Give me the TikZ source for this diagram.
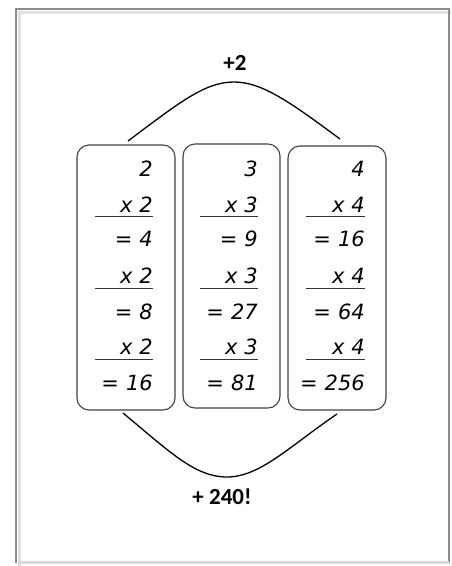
\documentclass[tikz,border=0pt]{standalone}
\usepackage{fontspec}
\setmainfont{Carlito}
\newfontfamily\numfont{DejaVu Sans}
\begin{document}
\begin{tikzpicture}[x=1pt,y=-1pt,
  frame/.style={draw=black!45,line width=1.4pt},
  colbox/.style={draw=black!75,line width=1.1pt,rounded corners=12pt},
  num/.style={anchor=east,inner sep=0pt,font=\numfont\itshape\fontsize{21}{21}\selectfont},
  rule/.style={draw=black!80,line width=1pt},
  arc/.style={draw=black,line width=1.3pt},
  lbl/.style={font=\bfseries\fontsize{23}{23}\selectfont,inner sep=0pt}]
\useasboundingbox (0,0) rectangle (451,566);
% page frame with soft shadow
\draw[black!12,line width=3pt] (19,566) -- (19,12) -- (451,12);
\draw[frame] (16,563) -- (16,9) -- (449,9) -- (449,563);
\draw[black!15,line width=3pt] (18,562) -- (449,562);
% boxes
\draw[colbox] (77,145) rectangle (175,410);
\draw[colbox] (183,144) rectangle (280,408);
\draw[colbox] (288,146) rectangle (386,410);
% column contents
\foreach \c/\xr/\xl/\a/\b/\r/\s/\t in {L/153/95/2/2/4/8/16, M/258/200/3/3/9/27/81, R/365/306/4/4/16/64/256}{
  \node[num] (\c0) at (\xr,169) {\a};
  \node[num] (\c1) at (\xr,205) {x\,\,\b};
  \draw[rule] (\xl,216) -- (\xr,216);
  \node[num] (\c2) at (\xr,239) {=\,\,\r};
  \node[num] (\c3) at (\xr,276) {x\,\,\b};
  \draw[rule] (\xl,288) -- (\xr,288);
  \node[num] (\c4) at (\xr,312) {=\,\,\s};
  \node[num] (\c5) at (\xr,347) {x\,\,\b};
  \draw[rule] (\xl,359) -- (\xr,359);
  \node[num] (\c6) at (\xr,383) {=\,\,\t};
}
% labels
\node[lbl] (plus2) at (235,63) {+2};
\node[lbl] (plus240) at (222,497) {+ 240!};
% curves
\coordinate (ta) at (128,141);
\coordinate (tp) at (234,82);
\coordinate (tb) at (340,139);
\draw[arc] (ta) .. controls (180,102) and (205,82) .. (tp) .. controls (262,82) and (290,102) .. (tb);
\coordinate (ba) at (123,413);
\coordinate (bp) at (227,477);
\coordinate (bb) at (337,414);
\draw[arc] (ba) .. controls (170,452) and (195,477) .. (bp) .. controls (260,477) and (290,446) .. (bb);
\end{tikzpicture}
\end{document}
